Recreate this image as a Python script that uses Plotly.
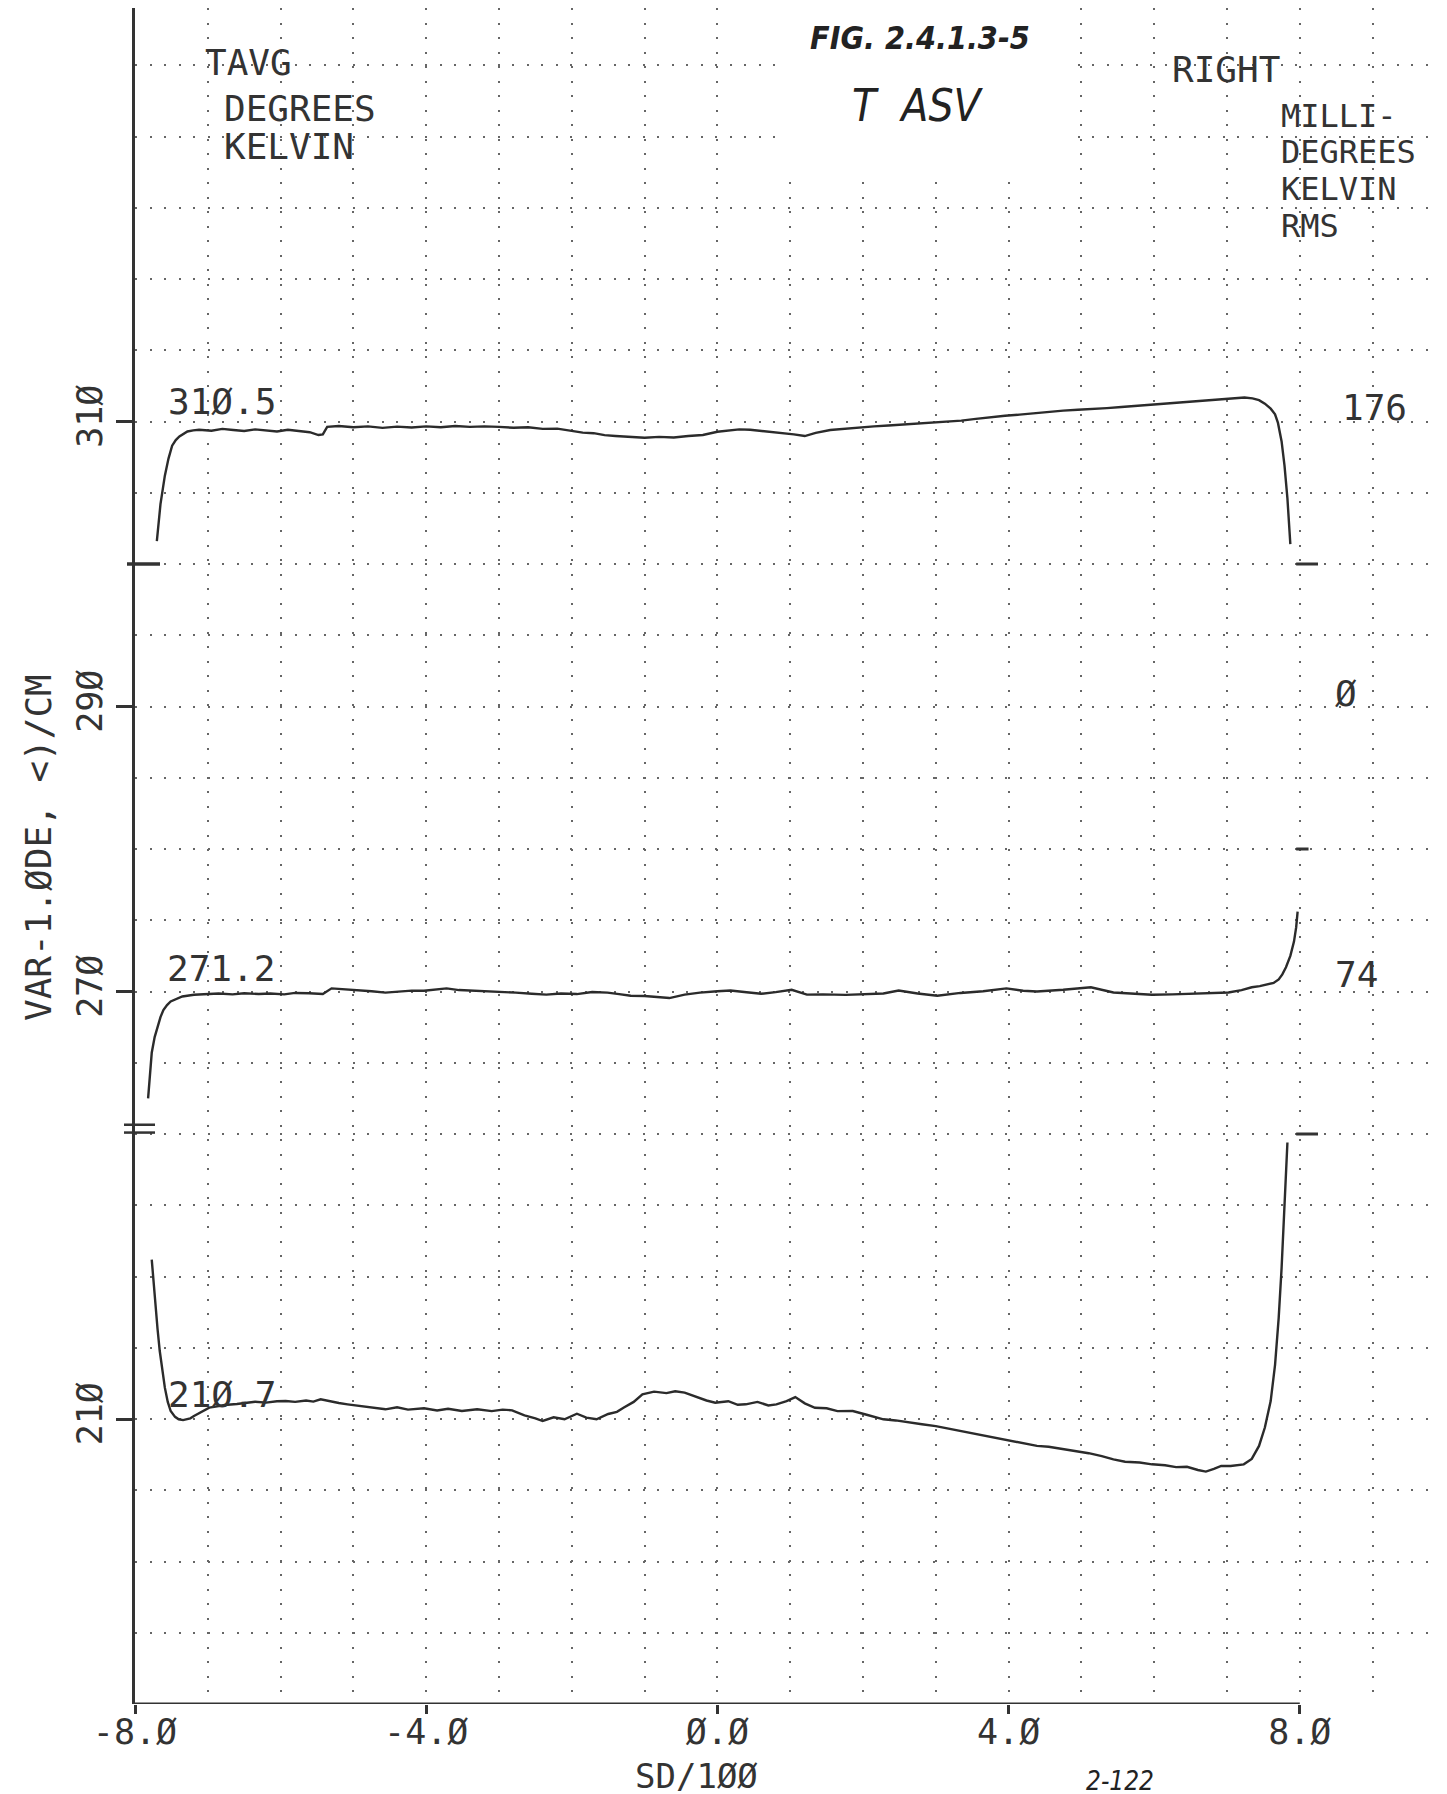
import plotly.graph_objects as go

# ---------------- data ----------------
x_ticks = [-8, -4, 0, 4, 8]
x_tick_text = ["-8.Ø", "-4.Ø", "Ø.Ø", "4.Ø", "8.Ø"]
y_ticks = [310, 290, 270, 240]
y_tick_text = ["31Ø", "29Ø", "27Ø", "21Ø"]
BREAK_OFFSET = 30  # lower curve drawn 30 deg higher (axis break)

top_x = [-7.70, -7.65, -7.59, -7.54, -7.49, -7.44, -7.39, -7.33, -7.28, -7.20, -7.12, -6.95, -6.80,
         -6.65, -6.50, -6.35, -6.20, -6.05, -5.90, -5.75, -5.60, -5.48, -5.42, -5.36, -5.20, -5.00,
         -4.80, -4.60, -4.40, -4.20, -4.00, -3.80, -3.60, -3.40, -3.20, -3.00, -2.80, -2.60, -2.40,
         -2.20, -2.00, -1.85, -1.70, -1.55, -1.40, -1.20, -1.00, -0.80, -0.60, -0.40, -0.20, 0.00,
         0.15, 0.30, 0.45, 0.60, 0.75, 0.90, 1.05, 1.20, 1.35, 1.55, 1.75, 1.95, 2.15, 2.35, 2.55,
         2.75, 2.95, 3.15, 3.35, 3.55, 3.75, 3.95, 4.15, 4.35, 4.55, 4.75, 4.95, 5.15, 5.35, 5.55,
         5.75, 5.95, 6.15, 6.35, 6.55, 6.75, 6.95, 7.10, 7.24, 7.35, 7.44, 7.52, 7.60, 7.66, 7.70,
         7.75, 7.79, 7.83, 7.87]
top_y = [301.6, 304.2, 306.2, 307.4, 308.3, 308.7, 308.95, 309.15, 309.3, 309.38, 309.42, 309.35,
         309.48, 309.40, 309.33, 309.45, 309.38, 309.30, 309.42, 309.32, 309.25, 309.05, 309.10,
         309.62, 309.68, 309.60, 309.66, 309.55, 309.64, 309.58, 309.66, 309.60, 309.68, 309.62,
         309.66, 309.62, 309.56, 309.60, 309.48, 309.50, 309.36, 309.22, 309.18, 309.04, 308.98,
         308.90, 308.86, 308.92, 308.88, 308.98, 309.05, 309.28, 309.38, 309.45, 309.42, 309.34,
         309.28, 309.20, 309.10, 308.98, 309.20, 309.40, 309.50, 309.58, 309.66, 309.72, 309.78,
         309.86, 309.90, 310.00, 310.06, 310.18, 310.30, 310.40, 310.48, 310.58, 310.64, 310.76,
         310.82, 310.86, 310.94, 311.02, 311.10, 311.16, 311.22, 311.30, 311.38, 311.48, 311.56,
         311.62, 311.68, 311.62, 311.50, 311.25, 310.90, 310.50, 309.90, 308.60, 306.90, 304.60,
         301.4]

mid_x = [-7.82, -7.79, -7.77, -7.73, -7.69, -7.65, -7.61, -7.56, -7.51, -7.43, -7.35, -7.19, -7.00,
         -6.85, -6.66, -6.50, -6.30, -6.14, -5.95, -5.80, -5.61, -5.42, -5.30, -5.08, -4.90, -4.75,
         -4.56, -4.35, -4.20, -4.03, -3.85, -3.72, -3.55, -3.35, -3.19, -3.00, -2.77, -2.55, -2.35,
         -2.15, -1.93, -1.72, -1.51, -1.35, -1.19, -1.00, -0.82, -0.66, -0.45, -0.24, 0.00, 0.18,
         0.40, 0.60, 0.80, 1.02, 1.23, 1.45, 1.76, 2.05, 2.28, 2.49, 2.75, 3.02, 3.34, 3.65, 3.97,
         4.20, 4.39, 4.75, 5.13, 5.44, 5.75, 5.97, 6.25, 6.49, 6.75, 7.02, 7.20, 7.34, 7.45, 7.55,
         7.64, 7.71, 7.76, 7.81, 7.87, 7.92, 7.95, 7.97]
mid_y = [262.5, 264.3, 265.7, 266.8, 267.5, 268.2, 268.7, 269.05, 269.3, 269.5, 269.65, 269.77,
         269.82, 269.86, 269.80, 269.88, 269.82, 269.86, 269.80, 269.90, 269.88, 269.82, 270.22,
         270.16, 270.10, 270.02, 269.92, 270.00, 270.06, 270.05, 270.15, 270.22, 270.10, 270.06,
         270.00, 269.96, 269.92, 269.84, 269.78, 269.86, 269.82, 269.96, 269.92, 269.82, 269.70,
         269.68, 269.60, 269.54, 269.78, 269.92, 270.02, 270.07, 269.95, 269.84, 269.96, 270.12,
         269.78, 269.80, 269.76, 269.82, 269.86, 270.07, 269.86, 269.70, 269.90, 270.02, 270.22,
         270.05, 270.00, 270.12, 270.30, 269.93, 269.82, 269.77, 269.80, 269.84, 269.88, 269.93,
         270.10, 270.30, 270.38, 270.50, 270.60, 270.85, 271.20, 271.70, 272.50, 273.50, 274.50,
         275.60]

low_x = [-7.77, -7.75, -7.72, -7.69, -7.66, -7.62, -7.59, -7.55, -7.51, -7.45, -7.40, -7.34, -7.29,
         -7.24, -7.19, -7.10, -6.98, -6.85, -6.77, -6.60, -6.45, -6.35, -6.20, -6.05, -5.93, -5.80,
         -5.65, -5.55, -5.45, -5.30, -5.20, -5.08, -4.90, -4.75, -4.56, -4.40, -4.25, -4.03, -3.85,
         -3.70, -3.51, -3.30, -3.10, -2.95, -2.82, -2.65, -2.50, -2.40, -2.25, -2.10, -1.93, -1.80,
         -1.66, -1.50, -1.38, -1.29, -1.15, -1.03, -0.87, -0.70, -0.58, -0.45, -0.30, -0.15, -0.03,
         0.15, 0.28, 0.39, 0.55, 0.70, 0.81, 0.95, 1.07, 1.20, 1.34, 1.50, 1.65, 1.86, 2.05, 2.28,
         2.45, 2.62, 2.81, 3.00, 3.15, 3.34, 3.50, 3.70, 3.86, 4.05, 4.20, 4.39, 4.55, 4.75, 4.92,
         5.10, 5.28, 5.44, 5.60, 5.80, 5.97, 6.15, 6.30, 6.45, 6.60, 6.71, 6.82, 6.92, 7.05, 7.15,
         7.23, 7.34, 7.44, 7.52, 7.60, 7.66, 7.71, 7.75, 7.78, 7.81, 7.83]
low_y = [221.19, 219.8, 218.04, 216.3, 214.77, 213.3, 212.2, 211.2, 210.56, 210.15, 209.98, 209.92,
         209.98, 210.05, 210.21, 210.45, 210.80, 210.90, 210.98, 211.05, 211.12, 211.21, 211.15,
         211.25, 211.26, 211.20, 211.30, 211.22, 211.38, 211.20, 211.12, 211.03, 210.90, 210.78,
         210.68, 210.82, 210.66, 210.75, 210.60, 210.72, 210.56, 210.68, 210.55, 210.66, 210.61,
         210.25, 210.05, 209.86, 210.12, 209.98, 210.37, 210.10, 209.98, 210.35, 210.50, 210.79,
         211.20, 211.73, 211.92, 211.82, 211.95, 211.85, 211.55, 211.30, 211.14, 211.25, 211.00,
         211.03, 211.20, 210.95, 211.03, 211.25, 211.54, 211.10, 210.79, 210.75, 210.55, 210.56,
         210.30, 209.98, 209.90, 209.75, 209.63, 209.50, 209.35, 209.16, 209.05, 208.85, 208.69,
         208.50, 208.35, 208.11, 208.05, 207.90, 207.76, 207.60, 207.40, 207.17, 207.00, 206.95,
         206.82, 206.75, 206.62, 206.65, 206.42, 206.31, 206.50, 206.71, 206.70, 206.76, 206.82,
         207.20, 208.11, 209.40, 211.26, 213.80, 217.10, 220.60, 224.10, 227.20, 229.40]

left_marks_single = [300]
left_marks_double = [260.1, 260.65]
right_marks = [300, 280, 260]

# ---------------- layout geometry ----------------
W, H = 1447, 1794
PL, PB = 127, 98
PW, PH = W - PL, H - PB
X_PER_UNIT = 72.8
Y_PER_DEG = 14.25
XMIN, XMAX = -8, -8 + PW / X_PER_UNIT
YMIN, YMAX = 220, 220 + PH / Y_PER_DEG


def px(x):
    return (x - PL) / PW


def py(y):
    return (PH - y) / PH


INK = "#333333"
MONO = "DejaVu Sans Mono"
HAND = "Liberation Sans Narrow, DejaVu Sans Condensed, DejaVu Sans"
GRID = dict(gridcolor="#666666", gridwidth=2, griddash="2px,12.5px")

fig = go.Figure()
line_style = dict(color="#2b2b2b", width=2.4)
fig.add_trace(go.Scatter(x=top_x, y=top_y, mode="lines", line=line_style, hoverinfo="skip"))
fig.add_trace(go.Scatter(x=mid_x, y=mid_y, mode="lines", line=line_style, hoverinfo="skip"))
fig.add_trace(go.Scatter(x=low_x, y=[v + BREAK_OFFSET for v in low_y], mode="lines",
                         line=line_style, hoverinfo="skip"))

fig.update_layout(
    width=W, height=H,
    margin=dict(l=PL, r=0, t=0, b=PB),
    paper_bgcolor="white", plot_bgcolor="white",
    showlegend=False,
    xaxis=dict(range=[XMIN, XMAX], tickvals=x_ticks, ticktext=x_tick_text,
               ticks="outside", ticklen=9, tickwidth=2.5, tickcolor=INK,
               ticklabelstandoff=-12,
               tickfont=dict(family=MONO, size=35, color=INK),
               showline=False, zeroline=False, showgrid=True, **GRID,
               minor=dict(dtick=1, tick0=0, showgrid=True, ticks="", **GRID)),
    yaxis=dict(range=[YMIN, YMAX], tickvals=y_ticks, ticktext=y_tick_text, tickangle=-90,
               ticks="outside", ticklen=16, tickwidth=2.5, tickcolor=INK,
               tickfont=dict(family=MONO, size=35, color=INK),
               showline=True, linewidth=2.5, linecolor=INK,
               zeroline=False, showgrid=True, **GRID,
               minor=dict(dtick=5, tick0=0, showgrid=True, ticks="", **GRID)),
)

# bottom axis line from -8 to 8
fig.add_shape(type="line", xref="x", yref="y", x0=x_ticks[0], x1=x_ticks[-1], y0=YMIN, y1=YMIN,
              line=dict(color=INK, width=2.8))
# whited-out area behind handwritten label
fig.add_shape(type="rect", xref="paper", yref="paper", x0=px(776), x1=px(1068), y0=py(172), y1=1,
              fillcolor="white", line=dict(width=0), layer="above")
# left axis-break marks
for v in left_marks_single:
    fig.add_shape(type="line", xref="paper", yref="y", x0=px(119), x1=px(152), y0=v, y1=v,
                  line=dict(color=INK, width=3.5))
for v in left_marks_double:
    fig.add_shape(type="line", xref="paper", yref="y", x0=px(116), x1=px(147), y0=v, y1=v,
                  line=dict(color=INK, width=2.5))
# right-side marks
for v in right_marks:
    x1 = 8.12 if v == 280 else 8.25
    fig.add_shape(type="line", xref="x", yref="y", x0=7.95, x1=x1, y0=v, y1=v,
                  line=dict(color=INK, width=3))


def label(text, x, y, size=36, xanchor="left", family=MONO, angle=0, color=INK):
    fig.add_annotation(text=text, xref="paper", yref="paper", x=px(x), y=py(y),
                       xanchor=xanchor, yanchor="middle", showarrow=False, textangle=angle,
                       borderpad=0, font=dict(family=family, size=size, color=color))


label("TAVG", 196, 55)
label("DEGREES", 215, 100)
label("KELVIN", 215, 139)
label("RIGHT", 1163, 61)
label("MILLI-", 1272, 108, size=32)
label("DEGREES", 1272, 144.5, size=32)
label("KELVIN", 1272, 181, size=32)
label("RMS", 1272, 217.5, size=32)
label("31Ø.5", 159, 393)
label("271.2", 158, 960)
label("21Ø.7", 159, 1386)
label("176", 1366, 400, xanchor="center")
label("Ø", 1338, 685, xanchor="center")
label("74", 1348, 966, xanchor="center")
label("SD/1ØØ", 688, 1768, size=34, xanchor="center")
label("VAR-1.ØDE, <)/CM", 31, 840, xanchor="center", angle=-90)
label("<b><i>FIG. 2.4.1.3-5</i></b>", 912, 30, size=32, xanchor="center", family=HAND, color="#222")
label("<i>T  ASV</i>", 910, 98, size=44, xanchor="center", family=HAND, color="#222")
label("<i>2-122</i>", 1112, 1773, size=26, xanchor="center", family=HAND, color="#222")

fig.write_html("out.html")
